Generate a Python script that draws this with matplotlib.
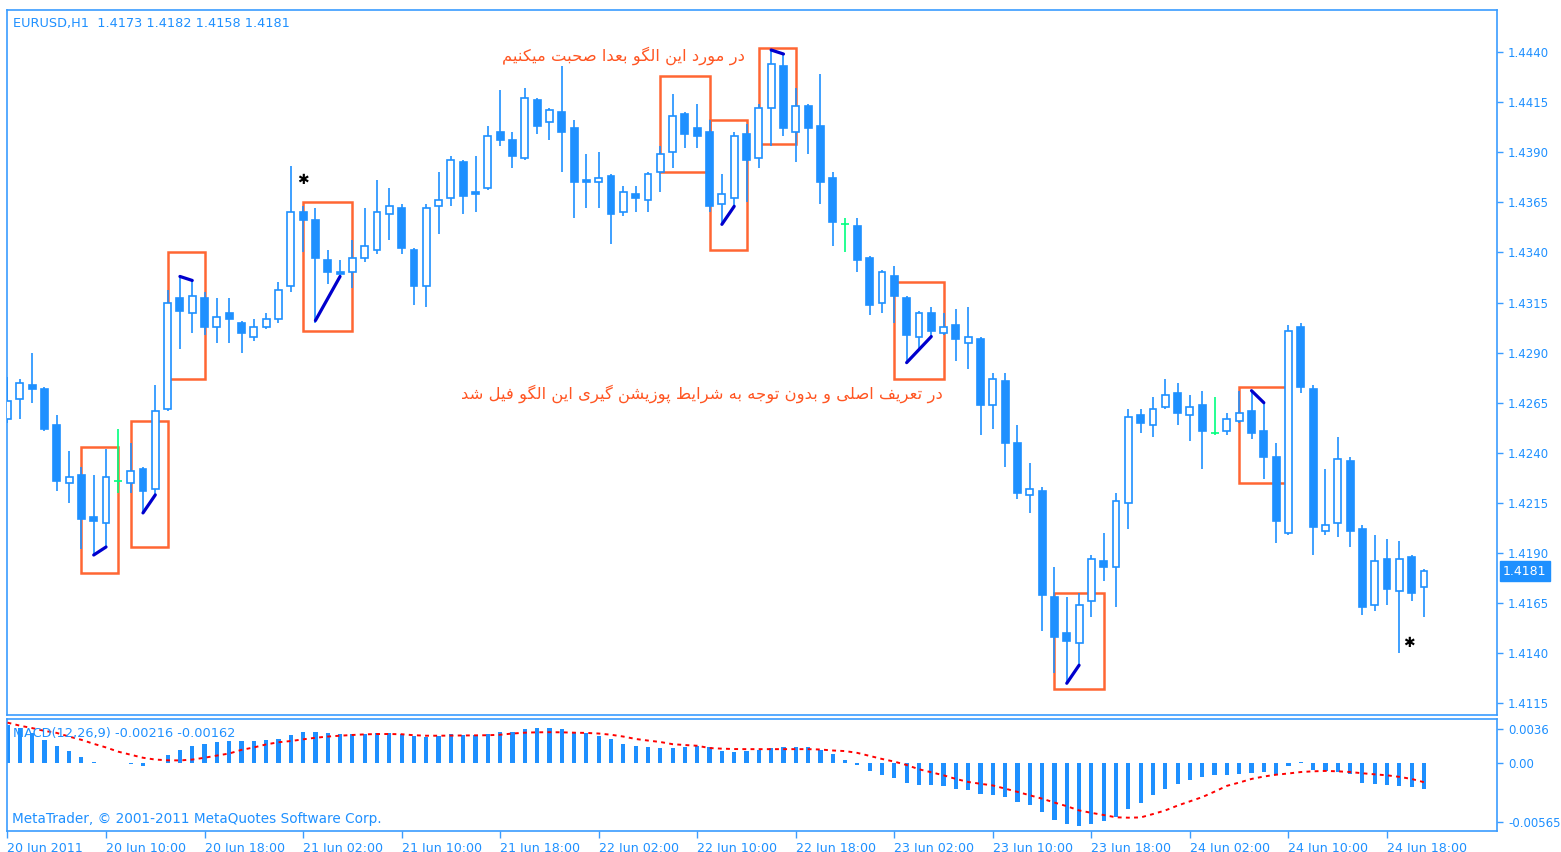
import matplotlib
matplotlib.use("Agg")
import matplotlib.pyplot as plt
from matplotlib.patches import Rectangle
from matplotlib.transforms import blended_transform_factory
from matplotlib import font_manager
from matplotlib.ft2font import FT2Font

# ---------------- data ----------------
opens = [1.4257, 1.4267, 1.4274, 1.4272, 1.4254, 1.4225, 1.4229, 1.4208, 1.4205, 1.4226,
         1.4225, 1.4232, 1.4222, 1.4262, 1.4317, 1.4310, 1.4317, 1.4303, 1.4310, 1.4305,
         1.4298, 1.4303, 1.4307, 1.4323, 1.4360, 1.4356, 1.4336, 1.4330, 1.4330, 1.4337,
         1.4341, 1.4359, 1.4362, 1.4341, 1.4323, 1.4363, 1.4367, 1.4385, 1.4370, 1.4372,
         1.4400, 1.4396, 1.4387, 1.4416, 1.4405, 1.4410, 1.4402, 1.4376, 1.4375, 1.4378,
         1.4360, 1.4369, 1.4366, 1.4380, 1.4390, 1.4409, 1.4402, 1.4400, 1.4364, 1.4367,
         1.4399, 1.4387, 1.4412, 1.4433, 1.4400, 1.4413, 1.4403, 1.4377, 1.4354, 1.4353,
         1.4337, 1.4315, 1.4328, 1.4317, 1.4298, 1.4310, 1.4300, 1.4304, 1.4295, 1.4297,
         1.4264, 1.4276, 1.4245, 1.4219, 1.4221, 1.4168, 1.4150, 1.4145, 1.4166, 1.4186,
         1.4183, 1.4215, 1.4259, 1.4254, 1.4263, 1.4270, 1.4259, 1.4264, 1.4250, 1.4251,
         1.4256, 1.4261, 1.4251, 1.4238, 1.4200, 1.4303, 1.4272, 1.4201, 1.4205, 1.4236,
         1.4202, 1.4164, 1.4187, 1.4171, 1.4188, 1.4173]
highs = [1.4278, 1.4277, 1.4290, 1.4273, 1.4259, 1.4241, 1.4233, 1.4229, 1.4242, 1.4252,
         1.4245, 1.4233, 1.4274, 1.4321, 1.4328, 1.4326, 1.4320, 1.4317, 1.4317, 1.4306,
         1.4307, 1.4310, 1.4325, 1.4383, 1.4363, 1.4362, 1.4341, 1.4336, 1.4346, 1.4362,
         1.4376, 1.4372, 1.4364, 1.4342, 1.4364, 1.4380, 1.4388, 1.4386, 1.4388, 1.4403,
         1.4421, 1.4400, 1.4422, 1.4417, 1.4412, 1.4433, 1.4406, 1.4389, 1.4390, 1.4379,
         1.4373, 1.4373, 1.4380, 1.4393, 1.4419, 1.4410, 1.4414, 1.4406, 1.4379, 1.4400,
         1.4404, 1.4414, 1.4441, 1.4439, 1.4422, 1.4414, 1.4429, 1.4380, 1.4357, 1.4357,
         1.4338, 1.4331, 1.4333, 1.4318, 1.4311, 1.4313, 1.4310, 1.4312, 1.4313, 1.4298,
         1.4280, 1.4280, 1.4254, 1.4235, 1.4223, 1.4183, 1.4168, 1.4170, 1.4189, 1.4200,
         1.4220, 1.4262, 1.4262, 1.4268, 1.4277, 1.4275, 1.4269, 1.4271, 1.4268, 1.4260,
         1.4271, 1.4271, 1.4265, 1.4245, 1.4304, 1.4305, 1.4274, 1.4232, 1.4248, 1.4238,
         1.4204, 1.4199, 1.4197, 1.4196, 1.4189, 1.4182]
lows = [1.4255, 1.4257, 1.4265, 1.4251, 1.4221, 1.4215, 1.4192, 1.4189, 1.4193, 1.4220,
        1.4220, 1.4210, 1.4219, 1.4261, 1.4292, 1.4300, 1.4299, 1.4295, 1.4295, 1.4290,
        1.4296, 1.4302, 1.4305, 1.4320, 1.4340, 1.4305, 1.4324, 1.4327, 1.4322, 1.4335,
        1.4339, 1.4346, 1.4339, 1.4314, 1.4313, 1.4349, 1.4363, 1.4359, 1.4360, 1.4371,
        1.4393, 1.4382, 1.4386, 1.4399, 1.4396, 1.4380, 1.4357, 1.4362, 1.4362, 1.4344,
        1.4358, 1.4360, 1.4360, 1.4370, 1.4382, 1.4392, 1.4392, 1.4360, 1.4354, 1.4363,
        1.4365, 1.4382, 1.4393, 1.4398, 1.4385, 1.4389, 1.4364, 1.4343, 1.4340, 1.4330,
        1.4309, 1.4310, 1.4305, 1.4285, 1.4292, 1.4298, 1.4299, 1.4286, 1.4282, 1.4249,
        1.4252, 1.4233, 1.4217, 1.4210, 1.4151, 1.4130, 1.4125, 1.4134, 1.4158, 1.4176,
        1.4163, 1.4202, 1.4250, 1.4248, 1.4262, 1.4254, 1.4246, 1.4232, 1.4249, 1.4249,
        1.4255, 1.4247, 1.4227, 1.4195, 1.4199, 1.4270, 1.4189, 1.4199, 1.4198, 1.4193,
        1.4159, 1.4161, 1.4164, 1.4140, 1.4166, 1.4158]
closes = [1.4266, 1.4275, 1.4272, 1.4252, 1.4226, 1.4228, 1.4207, 1.4206, 1.4228, 1.4226,
          1.4231, 1.4221, 1.4261, 1.4315, 1.4311, 1.4318, 1.4303, 1.4308, 1.4307, 1.4300,
          1.4303, 1.4307, 1.4321, 1.4360, 1.4356, 1.4337, 1.4330, 1.4329, 1.4337, 1.4343,
          1.4360, 1.4363, 1.4342, 1.4323, 1.4362, 1.4366, 1.4386, 1.4368, 1.4369, 1.4398,
          1.4396, 1.4388, 1.4417, 1.4403, 1.4411, 1.4400, 1.4375, 1.4375, 1.4377, 1.4359,
          1.4370, 1.4367, 1.4379, 1.4389, 1.4408, 1.4399, 1.4398, 1.4363, 1.4369, 1.4398,
          1.4386, 1.4412, 1.4434, 1.4402, 1.4413, 1.4402, 1.4375, 1.4355, 1.4354, 1.4336,
          1.4314, 1.4330, 1.4318, 1.4299, 1.4310, 1.4301, 1.4303, 1.4297, 1.4298, 1.4264,
          1.4277, 1.4245, 1.4220, 1.4222, 1.4169, 1.4148, 1.4146, 1.4164, 1.4187, 1.4183,
          1.4216, 1.4258, 1.4255, 1.4262, 1.4269, 1.4260, 1.4263, 1.4251, 1.4250, 1.4257,
          1.4260, 1.4250, 1.4238, 1.4206, 1.4301, 1.4273, 1.4203, 1.4204, 1.4237, 1.4201,
          1.4163, 1.4186, 1.4172, 1.4187, 1.4170, 1.4181]

macd_main = [0.00311, 0.00283, 0.00242, 0.00186, 0.00139, 0.00097, 0.00047, 0.00006, -0.00003, -0.00006,
             -0.00011, -0.00028, -0.00003, 0.00061, 0.00103, 0.00139, 0.00150, 0.00172, 0.00178, 0.00178,
             0.00181, 0.00186, 0.00192, 0.00228, 0.00256, 0.00250, 0.00242, 0.00236, 0.00233, 0.00233,
             0.00242, 0.00242, 0.00236, 0.00219, 0.00214, 0.00219, 0.00236, 0.00228, 0.00228, 0.00233,
             0.00256, 0.00250, 0.00275, 0.00283, 0.00283, 0.00275, 0.00256, 0.00242, 0.00219, 0.00192,
             0.00153, 0.00139, 0.00125, 0.00117, 0.00122, 0.00131, 0.00139, 0.00131, 0.00097, 0.00089,
             0.00094, 0.00103, 0.00122, 0.00131, 0.00131, 0.00125, 0.00108, 0.00069, 0.00019, -0.00020,
             -0.00072, -0.00100, -0.00125, -0.00167, -0.00183, -0.00189, -0.00197, -0.00217, -0.00225, -0.00258,
             -0.00267, -0.00286, -0.00328, -0.00347, -0.00411, -0.00475, -0.00508, -0.00522, -0.00508, -0.00480,
             -0.00453, -0.00383, -0.00336, -0.00264, -0.00217, -0.00175, -0.00147, -0.00119, -0.00106, -0.00100,
             -0.00092, -0.00086, -0.00078, -0.00106, -0.00025, 0.00005, -0.00064, -0.00069, -0.00078, -0.00092,
             -0.00167, -0.00175, -0.00181, -0.00197, -0.00203, -0.00216]
macd_signal = [0.00330, 0.00305, 0.00285, 0.00262, 0.00245, 0.00215, 0.00188, 0.00155, 0.00125, 0.00090,
               0.00065, 0.00040, 0.00025, 0.00019, 0.00018, 0.00025, 0.00040, 0.00058, 0.00075, 0.00105,
               0.00125, 0.00150, 0.00168, 0.00178, 0.00192, 0.00205, 0.00215, 0.00222, 0.00228, 0.00233,
               0.00236, 0.00236, 0.00234, 0.00226, 0.00222, 0.00222, 0.00223, 0.00224, 0.00225, 0.00226,
               0.00230, 0.00240, 0.00247, 0.00250, 0.00251, 0.00250, 0.00247, 0.00245, 0.00240, 0.00230,
               0.00215, 0.00195, 0.00182, 0.00170, 0.00152, 0.00145, 0.00139, 0.00120, 0.00115, 0.00112,
               0.00111, 0.00111, 0.00111, 0.00111, 0.00111, 0.00111, 0.00108, 0.00100, 0.00095, 0.00080,
               0.00055, 0.00030, 0.00008, -0.00020, -0.00055, -0.00080, -0.00105, -0.00135, -0.00160, -0.00175,
               -0.00189, -0.00215, -0.00242, -0.00270, -0.00298, -0.00330, -0.00360, -0.00395, -0.00415, -0.00433,
               -0.00452, -0.00455, -0.00453, -0.00425, -0.00395, -0.00355, -0.00320, -0.00285, -0.00240, -0.00192,
               -0.00165, -0.00135, -0.00115, -0.00100, -0.00090, -0.00078, -0.00072, -0.00069, -0.00072, -0.00078,
               -0.00088, -0.00097, -0.00105, -0.00118, -0.00135, -0.00162]

time_tick_bars = [0, 8, 16, 24, 32, 40, 48, 56, 64, 72, 80, 88, 96, 104, 112]
time_labels = ['20 Jun 2011', '20 Jun 10:00', '20 Jun 18:00', '21 Jun 02:00', '21 Jun 10:00',
               '21 Jun 18:00', '22 Jun 02:00', '22 Jun 10:00', '22 Jun 18:00', '23 Jun 02:00',
               '23 Jun 10:00', '23 Jun 18:00', '24 Jun 02:00', '24 Jun 10:00', '24 Jun 18:00']
price_ticks = [1.4115, 1.4140, 1.4165, 1.4190, 1.4215, 1.4240, 1.4265, 1.4290,
               1.4315, 1.4340, 1.4365, 1.4390, 1.4415, 1.4440]
price_labels = ['1.4115', '1.4140', '1.4165', '1.4190', '1.4215', '1.4240', '1.4265', '1.4290',
                '1.4315', '1.4340', '1.4365', '1.4390', '1.4415', '1.4440']
macd_max, macd_min = 0.0036, -0.00565
macd_labels = ['0.0036', '0.00', '-0.00565']
last_price = 1.4181

# pattern boxes: (first bar, last bar, top price, bottom price)
box_first = [6, 10, 13, 24, 53, 57, 61, 72, 85, 100]
box_last = [9, 13, 16, 28, 57, 60, 64, 76, 89, 104]
box_top = [1.4243, 1.4256, 1.4340, 1.4365, 1.4428, 1.4406, 1.4442, 1.4325, 1.4170, 1.4273]
box_bottom = [1.4180, 1.4193, 1.4277, 1.4301, 1.4380, 1.4341, 1.4394, 1.4277, 1.4122, 1.4225]

# dark blue pattern lines: (bar0, price0, bar1, price1)
line_bar0 = [7, 11, 14, 25, 58, 62, 73, 86, 101]
line_p0 = [1.4189, 1.4210, 1.4328, 1.4306, 1.4354, 1.4441, 1.4285, 1.4125, 1.4271]
line_bar1 = [8, 12, 15, 27, 59, 63, 75, 87, 102]
line_p1 = [1.4193, 1.4219, 1.4326, 1.4328, 1.4363, 1.4439, 1.4298, 1.4134, 1.4265]

mark_bar = [24, 113.8]
mark_price = [1.4376, 1.4145]

header = 'EURUSD,H1  1.4173 1.4182 1.4158 1.4181'
macd_title = 'MACD(12,26,9) -0.00216 -0.00162'
copyright_text = 'MetaTrader, \u00a9 2001-2011 MetaQuotes Software Corp.'
note_top = 'در مورد این الگو بعدا صحبت میکنیم'
note_mid = 'در تعریف اصلی و بدون توجه به شرایط پوزیشن گیری این الگو فیل شد'

# ---------------- Persian shaping (matplotlib has no complex text layout) ----------------
FORMS = {
    0x0627: (0xFE8D, 0xFE8E, None, None), 0x0628: (0xFE8F, 0xFE90, 0xFE91, 0xFE92),
    0x062A: (0xFE95, 0xFE96, 0xFE97, 0xFE98), 0x062C: (0xFE9D, 0xFE9E, 0xFE9F, 0xFEA0),
    0x062D: (0xFEA1, 0xFEA2, 0xFEA3, 0xFEA4), 0x062F: (0xFEA9, 0xFEAA, None, None),
    0x0631: (0xFEAD, 0xFEAE, None, None), 0x0632: (0xFEAF, 0xFEB0, None, None),
    0x0634: (0xFEB5, 0xFEB6, 0xFEB7, 0xFEB8), 0x0635: (0xFEB9, 0xFEBA, 0xFEBB, 0xFEBC),
    0x0637: (0xFEC1, 0xFEC2, 0xFEC3, 0xFEC4), 0x0639: (0xFEC9, 0xFECA, 0xFECB, 0xFECC),
    0x0641: (0xFED1, 0xFED2, 0xFED3, 0xFED4), 0x0644: (0xFEDD, 0xFEDE, 0xFEDF, 0xFEE0),
    0x0645: (0xFEE1, 0xFEE2, 0xFEE3, 0xFEE4), 0x0646: (0xFEE5, 0xFEE6, 0xFEE7, 0xFEE8),
    0x0647: (0xFEE9, 0xFEEA, 0xFEEB, 0xFEEC), 0x0648: (0xFEED, 0xFEEE, None, None),
    0x067E: (0xFB56, 0xFB57, 0xFB58, 0xFB59), 0x06A9: (0xFB8E, 0xFB8F, 0xFB90, 0xFB91),
    0x06AF: (0xFB92, 0xFB93, 0xFB94, 0xFB95), 0x06CC: (0xFBFC, 0xFBFD, 0xFBFE, 0xFBFF),
}
FALLBACK = {0xFB56: 0xFE8F, 0xFB57: 0xFE90, 0xFB58: 0xFE91, 0xFB59: 0xFE92,
            0xFB8E: 0xFED9, 0xFB8F: 0xFEDA, 0xFB90: 0xFEDB, 0xFB91: 0xFEDC,
            0xFB92: 0xFED9, 0xFB93: 0xFEDA, 0xFB94: 0xFEDB, 0xFB95: 0xFEDC,
            0xFBFC: 0xFEEF, 0xFBFD: 0xFEF0, 0xFBFE: 0xFEF3, 0xFBFF: 0xFEF4}
try:
    _path = font_manager.findfont(font_manager.FontProperties(family='DejaVu Sans'))
    _cmap = FT2Font(_path).get_charmap()
except Exception:
    _cmap = {}


def shape_rtl(s):
    s = s.replace('\u064A', '\u06CC').replace('\u0643', '\u06A9')
    cps = [ord(ch) for ch in s]
    out = []
    for k, cp in enumerate(cps):
        if cp not in FORMS:
            out.append(cp)
            continue
        f = FORMS[cp]
        prev = cps[k - 1] if k > 0 else None
        nxt = cps[k + 1] if k + 1 < len(cps) else None
        pj = prev in FORMS and FORMS[prev][2] is not None
        nj = nxt in FORMS and f[2] is not None
        if pj and nj:
            g = f[3]
        elif pj:
            g = f[1]
        elif nj:
            g = f[2]
        else:
            g = f[0]
        if _cmap and g not in _cmap and g in FALLBACK:
            g = FALLBACK[g]
        out.append(g)
    return ''.join(chr(c) for c in reversed(out))


# ---------------- figure ----------------
W, H = 1561, 852
BLUE = '#1E90FF'
FRAME = '#3A9CFF'
GREEN = '#00FF7F'
ORANGE = '#FF6633'
plt.rcParams['font.family'] = ['DejaVu Sans']

fig = plt.figure(figsize=(W / 100, H / 100), dpi=100)
fig.patch.set_facecolor('white')


def fx(px):
    return px / W


def fy(py):
    return 1 - py / H


ax = fig.add_axes([fx(7), fy(715), fx(1497) - fx(7), fy(10) - fy(715)])
ax2 = fig.add_axes([fx(7), fy(831), fx(1497) - fx(7), fy(719) - fy(831)], sharex=ax)

n = len(opens)
bw = 0.56
for i in range(n):
    o, h, l, c = opens[i], highs[i], lows[i], closes[i]
    if o == c:
        ax.vlines(i, l, h, color=GREEN, lw=1.2, zorder=3)
        ax.hlines(o, i - bw / 2 - 0.05, i + bw / 2 + 0.05, color=GREEN, lw=1.2, zorder=3)
    else:
        ax.vlines(i, l, h, color=BLUE, lw=1.2, zorder=3)
        fc = 'white' if c > o else BLUE
        ax.add_patch(Rectangle((i - bw / 2, min(o, c)), bw, abs(c - o), facecolor=fc,
                               edgecolor=BLUE, lw=1.2, zorder=4))

for b0, b1, t, btm in zip(box_first, box_last, box_top, box_bottom):
    ax.add_patch(Rectangle((b0, btm), b1 - b0, t - btm, facecolor='none', edgecolor=ORANGE,
                           lw=1.8, zorder=2))

for a0, p0, a1, p1 in zip(line_bar0, line_p0, line_bar1, line_p1):
    ax.plot([a0, a1], [p0, p1], color='#0000CD', lw=2.3, zorder=6, solid_capstyle='round')

for mb, mp in zip(mark_bar, mark_price):
    ax.text(mb, mp, '\u2731', color='black', fontsize=10, ha='center', va='center', zorder=7)

ax.set_xlim(-0.04, 120.93)
ax.set_ylim(1.410916, 1.446096)
ax.yaxis.tick_right()
ax.set_yticks(price_ticks)
ax.set_yticklabels(price_labels)
ax.tick_params(axis='y', direction='out', length=4, width=1, color=FRAME, labelcolor=BLUE,
               labelsize=8.5, pad=4)
ax.tick_params(axis='x', bottom=False, labelbottom=False)
for sp in ax.spines.values():
    sp.set_color(FRAME)
    sp.set_linewidth(1.2)

ax.text(6 / 1490, 1 - 13 / 705, header, transform=ax.transAxes, color=BLUE, fontsize=9.3,
        ha='left', va='center')

tr = blended_transform_factory(ax.transAxes, ax.transData)
ax.text(1 + 6 / 1490, last_price, str(last_price), transform=tr, color='white', fontsize=9,
        ha='left', va='center', zorder=10,
        bbox=dict(boxstyle='square,pad=0.28', facecolor=BLUE, edgecolor=BLUE))

fig.text(fx(745), fy(56), shape_rtl(note_top), color='#FF5522', fontsize=11.8, ha='right', va='center')
fig.text(fx(943), fy(394), shape_rtl(note_mid), color='#FF5522', fontsize=11.8, ha='right', va='center')

# ---------------- MACD panel ----------------
xs = list(range(n))
ax2.bar(xs, macd_main, width=0.34, color=BLUE, zorder=2)
ax2.plot(xs, macd_signal, color='#FF0000', lw=1.4, ls=(0, (2, 2.2)), zorder=3)
ax2.set_ylim(macd_min, macd_max)
px_val = (macd_max - macd_min) / 111.0
ax2.yaxis.tick_right()
ax2.set_yticks([macd_max - 10 * px_val, 0.0, macd_min + 9 * px_val])
ax2.set_yticklabels(macd_labels)
ax2.tick_params(axis='y', direction='out', length=4, width=1, color=FRAME, labelcolor=BLUE,
                labelsize=8.5, pad=4)
ax2.set_xticks(time_tick_bars)
ax2.set_xticklabels(time_labels, ha='left')
ax2.tick_params(axis='x', direction='out', length=5, width=1, color=FRAME, labelcolor=BLUE,
                labelsize=9.1, pad=3)
for sp in ax2.spines.values():
    sp.set_color(FRAME)
    sp.set_linewidth(1.2)
ax2.text(6 / 1490, 1 - 14 / 111, macd_title, transform=ax2.transAxes, color=BLUE, fontsize=9.3,
         ha='left', va='center', zorder=5)
ax2.text(5 / 1490, 1 - 99 / 111, copyright_text, transform=ax2.transAxes, color=BLUE,
         fontsize=9.8, ha='left', va='center')

fig.savefig('out.png', dpi=100, facecolor='white')
